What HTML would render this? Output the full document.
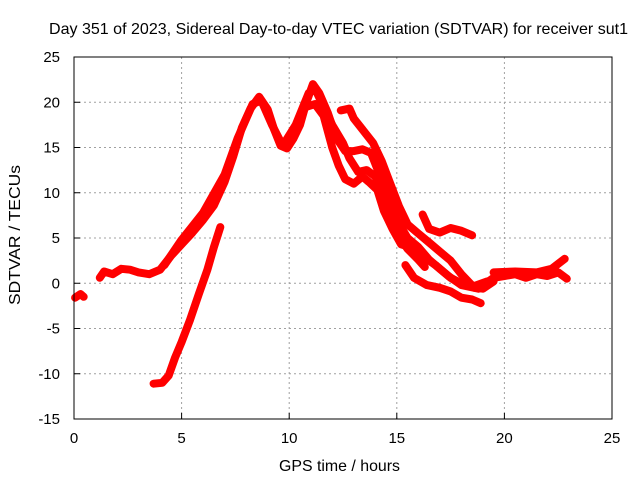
<!DOCTYPE html>
<html><head><meta charset="utf-8"><style>
body{margin:0;background:#fff;}
svg{display:block;font-family:"Liberation Sans",sans-serif;}
</style></head><body>
<svg id="chart" width="640" height="480">
<text x="49" y="34" font-size="16" textLength="579" lengthAdjust="spacingAndGlyphs">Day 351 of 2023, Sidereal Day-to-day VTEC variation (SDTVAR) for receiver sut1</text>
<text x="279" y="471" font-size="16" textLength="121" lengthAdjust="spacingAndGlyphs">GPS time / hours</text>
<text transform="translate(20,305) rotate(-90)" font-size="16" textLength="140" lengthAdjust="spacingAndGlyphs">SDTVAR / TECUs</text>
<g id="grid"></g><g id="ticks"></g><g id="series"></g>
<rect x="74" y="57" width="538" height="362" fill="none" stroke="#000" stroke-width="1"/>
</svg>
<script>
const xTicks=[0,5,10,15,20,25];
const yTicks=[-15,-10,-5,0,5,10,15,20,25];
const s1=[[0.05,-1.6],[0.3,-1.2],[0.45,-1.5]];
const s2=[[3.7,-11.1],[4.1,-11],[4.4,-10.2],[4.7,-8.2],[5.0,-6.5],[5.4,-4],[5.8,-1.2],[6.2,1.5],[6.5,4],[6.8,6.2]];
const s3=[[1.2,0.6],[1.4,1.3],[1.8,1.0],[2.2,1.6],[2.6,1.5],[3.0,1.2],[3.5,1.0],[4.0,1.5],[4.5,3.0],[5.0,4.3],[5.5,5.6],[6.0,7.0],[6.5,8.6],[7.0,11.2],[7.4,14],[7.8,17.2],[8.2,19.3],[8.6,20.6],[9.0,19.2],[9.3,17],[9.6,15.2],[9.9,14.9],[10.2,16],[10.5,17.5],[10.8,20],[11.1,22.0],[11.4,21],[11.8,18.8],[12.2,16],[12.6,14.6],[13.0,14.6],[13.4,14.8],[13.8,14.4],[14.2,12],[14.6,9.5],[15.0,7],[15.5,5],[16.0,4],[16.5,2.6],[17.0,1.6],[17.5,0.6],[18.0,0],[18.6,-0.3],[19.2,0.2]];
const s4=[[4.2,2.0],[5,4.8],[6,7.8],[7,12],[7.6,16],[8.3,19.8],[8.7,20.2],[9.2,17.5],[9.7,15.2],[10.3,17.5],[10.9,21],[11.2,21.5],[11.6,19.5],[12.0,17.5],[12.5,15.5],[12.8,13.8],[13.2,12.3],[13.6,12.5],[14.0,11.8],[14.4,9.5],[14.8,7],[15.2,5],[15.7,3.5],[16.2,3],[16.8,2],[17.4,0.8],[18,-0.2],[18.8,-0.6]];
const s5=[[10.8,19.5],[11.2,19.8],[11.6,18.5],[12.0,15],[12.3,13],[12.6,11.5],[13.0,11],[13.4,11.8],[13.7,11.2],[14.1,10.3],[14.4,8],[14.8,6],[15.2,4.3],[15.6,4],[16.0,3.5]];
const s6=[[12.4,19.1],[12.8,19.3],[13.0,18.2],[13.4,17.0],[13.9,15.5],[14.3,13.5],[14.7,11],[15.1,8.5],[15.5,6.5],[16.0,5.5],[16.5,4.5],[17.0,3.5],[17.5,2.5],[18.0,1],[18.6,-0.5],[19.0,-0.6],[19.5,0.2]];
const s7=[[16.2,7.6],[16.5,6],[17,5.6],[17.5,6.1],[18,5.8],[18.5,5.3]];
const s8=[[15.4,2.0],[15.8,0.6],[16.4,-0.2],[17,-0.5],[17.5,-0.9],[18,-1.6],[18.5,-1.8],[18.9,-2.2]];
const s9=[[18.9,-0.4],[19.5,0.6],[20,0.8],[20.5,1.0],[21,0.6],[21.5,1.0],[22,0.8],[22.5,1.2],[22.9,0.5]];
const s10=[[19.5,1.2],[20.5,1.3],[21.5,1.2],[22.2,1.6],[22.8,2.7]];
const s11=[[14.3,12],[14.6,8],[15,5.5],[15.5,3.8],[16,2.6],[16.3,1.8]];
const seriesList=[s1,s2,s3,s4,s5,s6,s7,s8,s9,s10,s11];
const NS='http://www.w3.org/2000/svg';
const X0=74,X1=612,Y0=419,Y1=57;
const xs=v=>X0+(v-0)/25*(X1-X0);
const ys=v=>Y0-(v+15)/40*(Y0-Y1);
const grid=document.getElementById('grid'),ticks=document.getElementById('ticks'),ser=document.getElementById('series');
function mk(t,a,p){const e=document.createElementNS(NS,t);for(const k in a)e.setAttribute(k,a[k]);p.appendChild(e);return e;}
xTicks.forEach(t=>{const x=xs(t);
 if(t>0&&t<25){const g=mk('line',{x1:x,x2:x,y1:Y1,y2:Y0,stroke:'#a0a0a0','stroke-dasharray':'2,3'},grid);
 
 }
 const tl=mk('line',{x1:x,x2:x,y1:Y0,y2:Y0-6,stroke:'#000'},ticks);
 
 
 const tx=mk('text',{x:x,y:Y0+24,'font-size':15,'text-anchor':'middle'},ticks);tx.textContent=t;
 
 });
yTicks.forEach(t=>{const y=ys(t);
 if(t>-15&&t<25){const g=mk('line',{x1:X0,x2:X1,y1:y,y2:y,stroke:'#a0a0a0','stroke-dasharray':'2,3'},grid);
 
 }
 const tl=mk('line',{x1:X0,x2:X0+6,y1:y,y2:y,stroke:'#000'},ticks);
 
 
 const tx=mk('text',{x:X0-14,y:y+5,'font-size':15,'text-anchor':'end'},ticks);tx.textContent=t;
 
 });
seriesList.forEach((s,i)=>{
 const pts=s.map(p=>xs(p[0]).toFixed(1)+','+ys(p[1]).toFixed(1)).join(' ');
 const pl=mk('polyline',{points:pts,fill:'none',stroke:'#ff0000','stroke-width':8,'stroke-linejoin':'round','stroke-linecap':'round'},ser);
 
 
});
</script>
</body></html>
